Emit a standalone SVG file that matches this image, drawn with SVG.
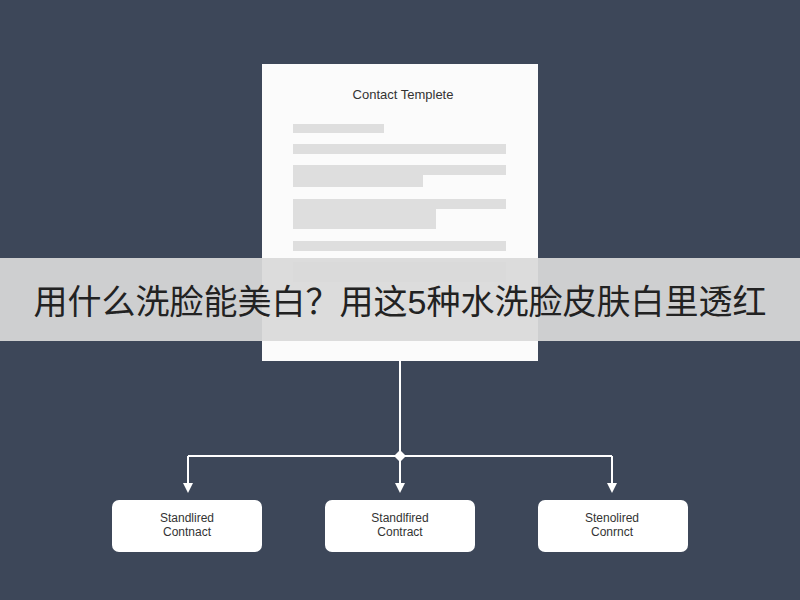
<svg xmlns="http://www.w3.org/2000/svg" width="800" height="600" viewBox="0 0 800 600">
<defs>
<style>
.bar{fill:#dedede}
.node rect{fill:#fff}
.nt{font-family:"Liberation Sans",Arial,sans-serif;font-size:12px;fill:#333;text-anchor:middle}
.c{stroke:#fff;stroke-width:2;fill:none}
</style>
<marker id="ah" viewBox="0 0 10 10" refX="5" refY="5" markerWidth="5" markerHeight="5" orient="auto"><path d="M0,0L10,5L0,10z" fill="#fff"/></marker>
</defs>
<rect width="800" height="600" fill="#3d4759"/>
<g id="doc">
<rect x="262" y="64" width="276" height="297" fill="#fbfbfb"/>
<text x="403" y="99" text-anchor="middle" font-family="Liberation Sans,Arial,sans-serif" font-size="13" fill="#333">Contact Templete</text>
<rect class="bar" x="293" y="124" width="91" height="9"/>
<rect class="bar" x="293" y="144" width="213" height="10"/>
<rect class="bar" x="293" y="165" width="213" height="10"/>
<rect class="bar" x="293" y="175" width="130" height="12"/>
<rect class="bar" x="293" y="199" width="213" height="10"/>
<rect class="bar" x="293" y="209" width="143" height="20"/>
<rect class="bar" x="293" y="241" width="213" height="10"/>
<rect class="bar" x="293" y="262" width="213" height="20"/>
</g>
<g id="connectors">
<path class="c" d="M400,361V456"/>
<path class="c" d="M188,456H612"/>
<path class="c" d="M188,456V488" marker-end="url(#ah)"/>
<path class="c" d="M400,456V488" marker-end="url(#ah)"/>
<path class="c" d="M612,456V488" marker-end="url(#ah)"/>
<path d="M400,450L406,456L400,462L394,456z" fill="#fff"/>
</g>
<g id="n1" class="node"><rect x="112" y="500" width="150" height="52" rx="7"/><text class="nt" x="187" y="522">Standlired</text><text class="nt" x="187" y="536">Contnact</text></g>
<g id="n2" class="node"><rect x="325" y="500" width="150" height="52" rx="7"/><text class="nt" x="400" y="522">Standlfired</text><text class="nt" x="400" y="536">Contract</text></g>
<g id="n3" class="node"><rect x="538" y="500" width="150" height="52" rx="7"/><text class="nt" x="612" y="522">Stenolired</text><text class="nt" x="612" y="536">Conrnct</text></g>
<g id="banner">
<rect x="0" y="258" width="800" height="83" fill="#d9d9d9" fill-opacity="0.93"/>
<text x="400" y="314" text-anchor="middle" font-family="Liberation Sans,'Noto Sans CJK SC',sans-serif" font-size="34" fill="#222">用什么洗脸能美白？用这5种水洗脸皮肤白里透红</text>
</g>
</svg>
